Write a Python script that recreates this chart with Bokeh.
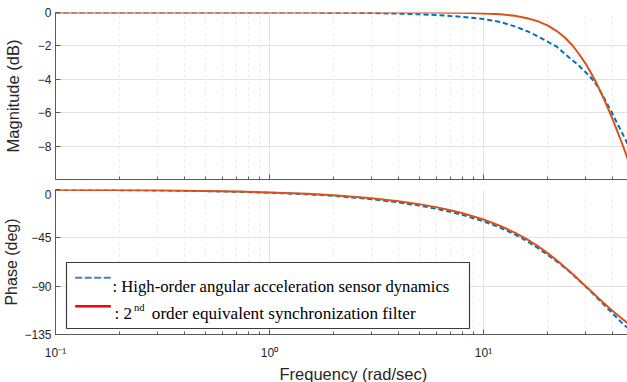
from bokeh.plotting import figure
from bokeh.layouts import column
from bokeh.models import (Label, BoxAnnotation, FixedTicker, Range1d, Title,
                          CustomJSTickFormatter)
from bokeh.embed import file_html
from bokeh.resources import INLINE

# ---------------- data ----------------
freq = [0.1, 0.15, 0.2, 0.3, 0.5, 0.7, 1, 1.5, 2, 3, 4, 5, 6, 7, 8, 10, 12, 14,
        16, 18, 20, 22, 24, 26, 28, 30, 32, 34, 36, 38, 40, 42, 44, 46, 48, 50]

mag_high = [0, 0, 0, 0, 0, 0, 0, -0.005, -0.01, -0.03, -0.07, -0.11, -0.15, -0.21,
            -0.26, -0.39, -0.57, -0.83, -1.12, -1.44, -1.76, -2.05, -2.48, -2.85,
            -3.2, -3.58, -3.95, -4.4, -4.95, -5.5, -6.05, -6.6, -7.1, -7.6, -8.1, -8.6]
mag_2nd = [0, 0, 0, 0, 0, 0, 0, 0, 0, 0, -0.001, -0.003, -0.007, -0.013, -0.022,
           -0.053, -0.11, -0.2, -0.34, -0.53, -0.79, -1.11, -1.5, -1.96, -2.5,
           -3.06, -3.68, -4.33, -5.0, -5.68, -6.36, -7.04, -7.71, -8.38, -9.05, -9.7]

phase_high = [-0.3, -0.45, -0.6, -0.9, -1.5, -2.1, -3.0, -4.5, -6.0, -9.0, -12.0,
              -14.9, -17.9, -20.8, -23.7, -29.6, -35.6, -41.8, -48.2, -54.6, -61.0,
              -67.0, -73.0, -78.7, -84.8, -90.3, -95.6, -101.0, -106.0, -110.8,
              -115.0, -119.5, -123.5, -127.0, -130.0, -132.5]
phase_2nd = [-0.27, -0.41, -0.54, -0.81, -1.35, -1.89, -2.7, -4.05, -5.41, -8.13,
             -10.87, -13.63, -16.42, -19.24, -22.09, -27.94, -33.96, -40.16, -46.49,
             -52.97, -59.49, -65.97, -72.35, -78.52, -84.42, -90.0, -95.2, -100.1,
             -104.7, -108.9, -112.8, -116.4, -119.7, -122.8, -125.6, -128.2]

mag_ticks = [0, -2, -4, -6, -8]
phase_ticks = [0, -45, -90, -135]
freq_ticks = [0.1, 1, 10]
freq_tick_labels = ["10\u207b\u00b9", "10\u2070", "10\u00b9"]
freq_minor = [m * d for d in (0.1, 1, 10) for m in range(2, 10)]

mag_label = "Magnitude (dB)"
phase_label = "Phase (deg)"
freq_label = "Frequency (rad/sec)"
legend_labels = [": High-order angular acceleration sensor dynamics",
                 ": 2", "nd", "order equivalent synchronization filter"]

X_END = 48.1
BLUE = "#0072BD"
ORANGE = "#D95319"
FONT = "Liberation Sans"
SERIF = "Liberation Serif"
TXT = "#262626"
AX = "#5a5a5a"


def make_fig(frame_h, yr, yticks, top, bottom, show_x_labels):
    p = figure(x_axis_type="log", x_range=Range1d(0.1, X_END),
               y_range=Range1d(*yr), frame_width=574, frame_height=frame_h,
               min_border_left=53, min_border_right=0, min_border_top=top,
               min_border_bottom=bottom, toolbar_location=None,
               output_backend="svg", outline_line_color=None,
               background_fill_color="white", border_fill_color="white")
    p.xaxis.ticker = FixedTicker(ticks=freq_ticks, minor_ticks=freq_minor)
    p.yaxis.ticker = FixedTicker(ticks=yticks)
    for ax in (p.xaxis[0], p.yaxis[0]):
        ax.axis_line_color = AX
        ax.major_tick_line_color = AX
        ax.minor_tick_line_color = AX
        ax.major_tick_in = 5
        ax.major_tick_out = 0
        ax.minor_tick_in = 3
        ax.minor_tick_out = 0
        ax.major_label_text_font = FONT
        ax.major_label_text_font_size = "12px"
        ax.major_label_text_color = TXT
        ax.axis_label_text_font = FONT
        ax.axis_label_text_font_style = "normal"
        ax.axis_label_text_color = TXT
        ax.axis_label_text_font_size = "16px"
    p.yaxis.minor_tick_line_color = None
    p.yaxis.major_label_standoff = 4
    if show_x_labels:
        p.xaxis.major_label_overrides = dict(zip(freq_ticks, freq_tick_labels))
        p.xaxis.major_label_standoff = 11
    else:
        p.xaxis.formatter = CustomJSTickFormatter(code="return ''")
        p.xaxis.major_label_standoff = 0
    p.xgrid.grid_line_color = "#e2e2e2"
    p.xgrid.minor_grid_line_color = "#e4e4e4"
    p.xgrid.minor_grid_line_dash = "dotted"
    p.ygrid.grid_line_color = "#e2e2e2"
    return p


# ---------------- magnitude ----------------
p1 = make_fig(167, (-10, 0), mag_ticks, 12, 10, False)
p1.line(freq, mag_high, line_color=BLUE, line_width=2, line_dash="5 3")
p1.line(freq, mag_2nd, line_color=ORANGE, line_width=2)
p1.yaxis.axis_label = mag_label
p1.yaxis.axis_label_text_font_size = "16.5px"
p1.yaxis.axis_label_standoff = 13

# ---------------- phase ----------------
p2 = make_fig(145, (-135, 0), phase_ticks, 0, 48, True)
p2.line(freq, phase_high, line_color=BLUE, line_width=2, line_dash="5 3")
p2.line(freq, phase_2nd, line_color=ORANGE, line_width=2)
p2.yaxis.axis_label = phase_label
p2.yaxis.axis_label_standoff = 1
p2.add_layout(Title(text=freq_label, align="left", offset=224,
                    text_font=FONT, text_font_size="16.5px",
                    text_font_style="normal", text_color=TXT, standoff=0),
              "below")

# legend (drawn by hand: sample colours differ from the curves)
p2.add_layout(BoxAnnotation(left=11, right=414, bottom=6, top=72,
                            left_units="screen", right_units="screen",
                            bottom_units="screen", top_units="screen",
                            fill_color="white", fill_alpha=1,
                            line_color="#3c3c3c", line_width=1.2,
                            line_alpha=1))
for d0 in (19.7, 29.2, 38.7, 48.2):
    p2.add_layout(BoxAnnotation(left=d0, right=d0 + 7, bottom=55.7, top=57.8,
                                left_units="screen", right_units="screen",
                                bottom_units="screen", top_units="screen",
                                fill_color="#4a7ebb", fill_alpha=1,
                                line_color=None))
p2.add_layout(BoxAnnotation(left=19.7, right=55.3, bottom=27, top=29.5,
                            left_units="screen", right_units="screen",
                            bottom_units="screen", top_units="screen",
                            fill_color="#ff0000", fill_alpha=1, line_color=None))
p2.add_layout(Label(x=57, y=48.3, x_units="screen", y_units="screen",
                    text=legend_labels[0], text_font=SERIF,
                    text_font_size="16.7px", text_color="black",
                    text_baseline="alphabetic"))
p2.add_layout(Label(x=59, y=20.7, x_units="screen", y_units="screen",
                    text=legend_labels[1], text_font=SERIF,
                    text_font_size="17px", text_color="black",
                    text_baseline="alphabetic"))
p2.add_layout(Label(x=78.5, y=27.3, x_units="screen", y_units="screen",
                    text=legend_labels[2], text_font=SERIF,
                    text_font_size="10.5px", text_color="black",
                    text_baseline="alphabetic"))
p2.add_layout(Label(x=96.3, y=20.7, x_units="screen", y_units="screen",
                    text=legend_labels[3], text_font=SERIF,
                    text_font_size="17.2px", text_color="black",
                    text_baseline="alphabetic"))

layout = column(p1, p2, spacing=0)
open("out.html", "w").write(file_html(layout, INLINE))
